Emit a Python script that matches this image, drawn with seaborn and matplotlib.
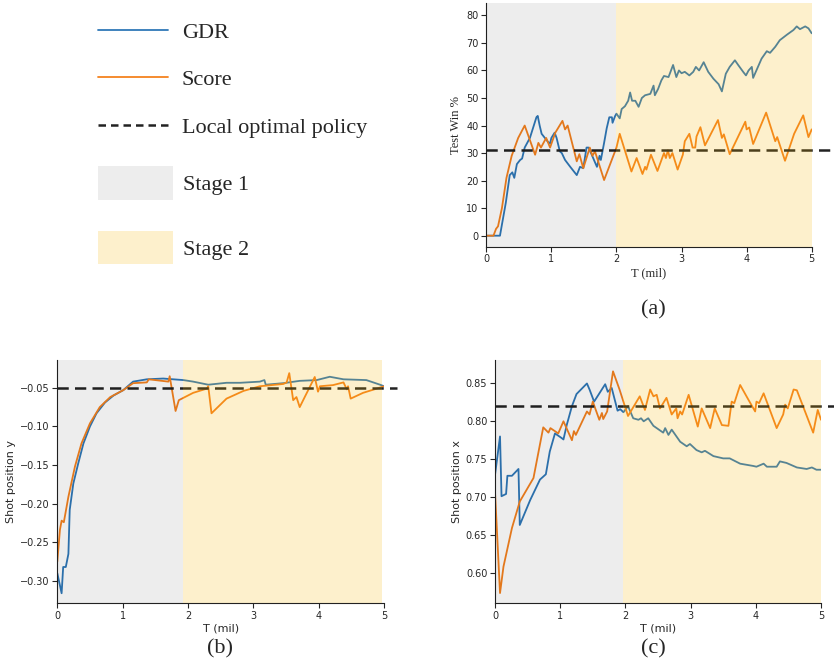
import matplotlib
matplotlib.use("Agg")
import matplotlib.pyplot as plt
from matplotlib.lines import Line2D
from matplotlib.patches import Patch
import seaborn as sns
import pandas as pd

# ---------------- data ----------------
# (a) Test Win %
a_gdr_t = [0, 0.21, 0.30, 0.36, 0.40, 0.43, 0.47, 0.52, 0.55, 0.59, 0.67, 0.77, 0.79, 0.82, 0.85, 0.90,
           0.95, 0.98, 1.00, 1.05, 1.08, 1.13, 1.16, 1.21, 1.29, 1.39, 1.44, 1.49, 1.54, 1.57, 1.62, 1.70,
           1.74, 1.76, 1.81, 1.85, 1.89, 1.93, 1.94, 1.98, 2.00, 2.05, 2.08, 2.13, 2.18, 2.21, 2.24, 2.29,
           2.34, 2.39, 2.44, 2.52, 2.57, 2.59, 2.64, 2.69, 2.73, 2.80, 2.87, 2.92, 2.96, 3.00, 3.05, 3.12,
           3.18, 3.22, 3.27, 3.34, 3.41, 3.49, 3.57, 3.62, 3.68, 3.74, 3.82, 3.87, 3.95, 3.99, 4.03, 4.08,
           4.10, 4.15, 4.23, 4.31, 4.36, 4.44, 4.51, 4.62, 4.72, 4.77, 4.82, 4.90, 4.95, 5.00]
a_gdr_v = [0, 0, 12, 22, 23, 21, 26, 27.5, 28, 32, 35.5, 43, 43.5, 40, 37, 35.5,
           34, 33.5, 35.5, 37.4, 35.5, 30.6, 30, 27.5, 25, 22, 25, 24.5, 32, 32, 29.4, 25,
           29, 27.5, 33.7, 39, 43, 43, 41, 43.5, 44.3, 42.6, 46, 47, 49, 52, 49, 49,
           46.8, 50, 51, 51.5, 54.5, 51, 53.3, 56.4, 58, 57.6, 62, 57.6, 60, 59, 59.5, 58.2,
           59.5, 61.3, 60, 63, 59.5, 57, 55, 52.4, 58.8, 61.3, 63.7, 62, 59.4, 58.2, 60, 61.3,
           57.3, 60, 64.3, 67, 66.4, 68.6, 71, 73, 74.7, 76, 75, 76, 75.3, 73.5]
a_score_t = [0, 0.11, 0.15, 0.18, 0.24, 0.31, 0.39, 0.49, 0.59, 0.75, 0.80, 0.84, 0.92, 0.98, 1.06, 1.17,
             1.21, 1.25, 1.39, 1.43, 1.49, 1.59, 1.63, 1.67, 1.81, 2.00, 2.05, 2.23, 2.31, 2.40, 2.44, 2.46,
             2.53, 2.63, 2.73, 2.76, 2.79, 2.82, 2.86, 2.94, 3.02, 3.05, 3.12, 3.17, 3.21, 3.23, 3.29, 3.36,
             3.56, 3.62, 3.65, 3.74, 3.98, 4.00, 4.04, 4.10, 4.30, 4.44, 4.47, 4.59, 4.73, 4.87, 4.95, 5.00]
a_score_v = [0, 0, 2.5, 3.4, 10, 21, 29, 35.5, 40, 29.4, 33.7, 32, 35.5, 32, 37.4, 41.7,
             38.6, 40, 27, 29.6, 24.5, 32, 29, 30.6, 20.2, 32, 37, 23.3, 28.2, 22.4, 25, 24,
             29.4, 23.5, 30, 28.2, 31, 28.2, 30, 24, 29.4, 34.3, 37, 32, 32, 36, 39.4, 32.8,
             42, 35.5, 36.8, 29.6, 41.4, 38.6, 39.3, 33.3, 44.7, 34.3, 35.8, 27.2, 37, 43.7, 35.8, 38.6]
a_local_opt = 31

# (b) Shot position y
b_gdr_t = [0, 0.066, 0.09, 0.13, 0.17, 0.19, 0.245, 0.32, 0.40, 0.50, 0.60, 0.73, 0.86, 1.01, 1.16,
           1.37, 1.62, 1.93, 2.08, 2.31, 2.59, 2.80, 3.10, 3.17, 3.19, 3.46, 3.71, 3.97, 4.17, 4.38,
           4.73, 4.94, 5.00]
b_gdr_v = [-0.290, -0.316, -0.282, -0.282, -0.265, -0.208, -0.174, -0.148, -0.122, -0.100, -0.083,
           -0.069, -0.060, -0.053, -0.042, -0.039, -0.038, -0.040, -0.042, -0.046, -0.0435, -0.0435,
           -0.042, -0.040, -0.046, -0.044, -0.041, -0.040, -0.0357, -0.039, -0.040, -0.046, -0.048]
b_score_t = [0, 0.04, 0.066, 0.10, 0.17, 0.27, 0.37, 0.50, 0.65, 0.81, 1.01, 1.16, 1.37, 1.40, 1.70,
             1.72, 1.81, 1.86, 2.08, 2.29, 2.31, 2.36, 2.59, 2.85, 3.10, 3.46, 3.51, 3.55, 3.61, 3.66,
             3.71, 3.94, 3.99, 4.02, 4.22, 4.38, 4.43, 4.45, 4.49, 4.68, 4.89, 5.00]
b_score_v = [-0.275, -0.234, -0.222, -0.224, -0.191, -0.152, -0.122, -0.096, -0.075, -0.062, -0.053,
             -0.044, -0.043, -0.039, -0.042, -0.035, -0.080, -0.066, -0.0565, -0.051, -0.048, -0.083,
             -0.064, -0.054, -0.048, -0.045, -0.043, -0.031, -0.066, -0.062, -0.075, -0.036, -0.055,
             -0.048, -0.0465, -0.043, -0.052, -0.048, -0.064, -0.0565, -0.051, -0.048]
b_local_opt = -0.05

# (c) Shot position x
c_gdr_t = [0, 0.077, 0.10, 0.17, 0.19, 0.26, 0.36, 0.38, 0.54, 0.69, 0.78, 0.84, 0.92, 1.02, 1.05,
           1.10, 1.18, 1.25, 1.41, 1.45, 1.52, 1.69, 1.73, 1.79, 1.88, 1.92, 1.97, 2.04, 2.12, 2.20,
           2.24, 2.28, 2.35, 2.43, 2.58, 2.61, 2.66, 2.71, 2.84, 2.94, 2.99, 3.09, 3.17, 3.22, 3.35,
           3.50, 3.60, 3.76, 3.96, 4.01, 4.12, 4.17, 4.32, 4.37, 4.47, 4.63, 4.78, 4.86, 4.93, 5.00]
c_gdr_v = [0.729, 0.780, 0.701, 0.704, 0.728, 0.728, 0.737, 0.663, 0.696, 0.723, 0.730, 0.760, 0.784,
           0.778, 0.776, 0.795, 0.820, 0.836, 0.850, 0.842, 0.826, 0.849, 0.839, 0.844, 0.814, 0.816,
           0.812, 0.820, 0.804, 0.802, 0.804, 0.800, 0.804, 0.794, 0.785, 0.791, 0.782, 0.789, 0.773,
           0.767, 0.770, 0.762, 0.759, 0.761, 0.754, 0.751, 0.751, 0.744, 0.741, 0.740, 0.744, 0.740,
           0.740, 0.747, 0.745, 0.739, 0.737, 0.739, 0.736, 0.736]
c_score_t = [0, 0.077, 0.13, 0.26, 0.38, 0.59, 0.74, 0.82, 0.85, 0.97, 1.05, 1.18, 1.21, 1.24, 1.41,
             1.45, 1.50, 1.60, 1.64, 1.66, 1.72, 1.81, 1.91, 2.04, 2.22, 2.30, 2.38, 2.43, 2.48, 2.53,
             2.63, 2.71, 2.78, 2.80, 2.84, 2.87, 2.97, 3.11, 3.17, 3.30, 3.37, 3.48, 3.58, 3.63, 3.67,
             3.76, 3.89, 3.99, 4.01, 4.05, 4.12, 4.32, 4.42, 4.45, 4.49, 4.58, 4.63, 4.88, 4.95, 5.00]
c_score_v = [0.707, 0.573, 0.608, 0.659, 0.694, 0.725, 0.792, 0.785, 0.791, 0.784, 0.800, 0.775, 0.787,
             0.782, 0.813, 0.809, 0.826, 0.802, 0.811, 0.803, 0.813, 0.866, 0.842, 0.807, 0.833, 0.815,
             0.842, 0.833, 0.835, 0.817, 0.831, 0.809, 0.817, 0.804, 0.813, 0.809, 0.835, 0.793, 0.817,
             0.791, 0.817, 0.795, 0.794, 0.826, 0.824, 0.848, 0.828, 0.813, 0.826, 0.824, 0.837, 0.791,
             0.809, 0.822, 0.817, 0.842, 0.841, 0.785, 0.815, 0.802]
c_local_opt = 0.82

stage1 = {"a": (0, 1.99), "b": (0, 1.93), "c": (0, 1.97)}
stage2 = {"a": (1.99, 5.0), "b": (1.93, 4.97), "c": (1.97, 5.0)}

methods = ["GDR", "Score"]
legend_labels = ["GDR", "Score", "Local optimal policy", "Stage 1", "Stage 2"]
captions = ["(a)", "(b)", "(c)"]

# ---------------- style ----------------
sns.set_style("ticks")
plt.rcParams["font.family"] = ["DejaVu Sans"]
SERIF = ["Liberation Serif", "DejaVu Serif"]

BLUE = "#2f78b8"
ORANGE = "#f5821f"
DASH = "#222222"
GRAY_C, GRAY_A = "#000000", 0.07
YEL_C, YEL_A = "#f5b400", 0.20
palette = {"GDR": BLUE, "Score": ORANGE}

W, H = 834, 667
fig = plt.figure(figsize=(W / 100, H / 100), dpi=100)


def px_axes(left, top, right, bottom):
    return fig.add_axes([left / W, 1 - bottom / H, (right - left) / W, (bottom - top) / H])


def make_df(gt, gv, st, sv):
    return pd.concat([
        pd.DataFrame({"T": gt, "v": gv, "method": "GDR"}),
        pd.DataFrame({"T": st, "v": sv, "method": "Score"}),
    ], ignore_index=True)


def panel(ax, df, key, local, ylim, yticks, ylabel, serif, hline_xmax):
    sns.lineplot(data=df, x="T", y="v", hue="method", hue_order=methods, palette=palette,
                 estimator=None, sort=False, lw=1.3, ax=ax, legend=False)
    ax.axhline(local, xmin=0, xmax=hline_xmax, color=DASH, ls=(0, (4.5, 2.5)), lw=1.8,
               clip_on=False, zorder=2.5)
    ax.axvspan(*stage1[key], color=GRAY_C, alpha=GRAY_A, lw=0, zorder=3)
    ax.axvspan(*stage2[key], color=YEL_C, alpha=YEL_A, lw=0, zorder=3)
    ax.set_xlim(0, 5)
    ax.set_ylim(*ylim)
    ax.set_yticks(yticks)
    ax.set_xticks([0, 1, 2, 3, 4, 5])
    ax.tick_params(labelsize=7, length=3.5, width=0.8, pad=2)
    lab_kw = dict(fontsize=9, family=SERIF) if serif else dict(fontsize=8)
    ax.set_xlabel("T (mil)", labelpad=2, **lab_kw)
    ax.set_ylabel(ylabel, labelpad=3, **lab_kw)
    for s in ("left", "bottom"):
        ax.spines[s].set_linewidth(0.8)
        ax.spines[s].set_color("#222222")
    sns.despine(ax=ax)


ax_a = px_axes(486.3, 3, 811.7, 246.7)
panel(ax_a, make_df(a_gdr_t, a_gdr_v, a_score_t, a_score_v), "a", a_local_opt,
      (-4, 84.5), list(range(0, 81, 10)), "Test Win %", True, 1.07)

ax_b = px_axes(57.3, 360, 384, 603.3)
panel(ax_b, make_df(b_gdr_t, b_gdr_v, b_score_t, b_score_v), "b", b_local_opt,
      (-0.329, -0.014), [-0.30, -0.25, -0.20, -0.15, -0.10, -0.05], "Shot position y", False, 1.04)

ax_c = px_axes(495, 360, 821, 603.3)
panel(ax_c, make_df(c_gdr_t, c_gdr_v, c_score_t, c_score_v), "c", c_local_opt,
      (0.5595, 0.881), [0.60, 0.65, 0.70, 0.75, 0.80, 0.85], "Shot position x", False, 1.05)

# captions
cap_pos = [(653, 310), (220, 649), (653, 649)]
for txt, (x, y) in zip(captions, cap_pos):
    fig.text(x / W, 1 - y / H, txt, ha="center", va="center", fontsize=16, family=SERIF)

# legends (figure level)
line_handles = [Line2D([], [], color=BLUE, lw=1.3),
                Line2D([], [], color=ORANGE, lw=1.3),
                Line2D([], [], color=DASH, lw=1.8, ls=(0, (3, 2)))]
leg1 = fig.legend(line_handles, legend_labels[:3], loc="upper left",
                  bbox_to_anchor=(97.7 / W, 1 - 22 / H), frameon=False,
                  prop={"family": SERIF, "size": 16}, borderpad=0, borderaxespad=0,
                  handlelength=3.17, handletextpad=0.62, labelspacing=1.22)
patch_handles = [Patch(facecolor=GRAY_C, alpha=GRAY_A, lw=0),
                 Patch(facecolor=YEL_C, alpha=YEL_A, lw=0)]
leg2 = fig.legend(patch_handles, legend_labels[3:], loc="upper left",
                  bbox_to_anchor=(97.7 / W, 1 - 166 / H), frameon=False,
                  prop={"family": SERIF, "size": 16}, borderpad=0, borderaxespad=0,
                  handlelength=3.38, handleheight=1.95, handletextpad=0.45, labelspacing=1.4)

fig.savefig("out.png", dpi=100)
